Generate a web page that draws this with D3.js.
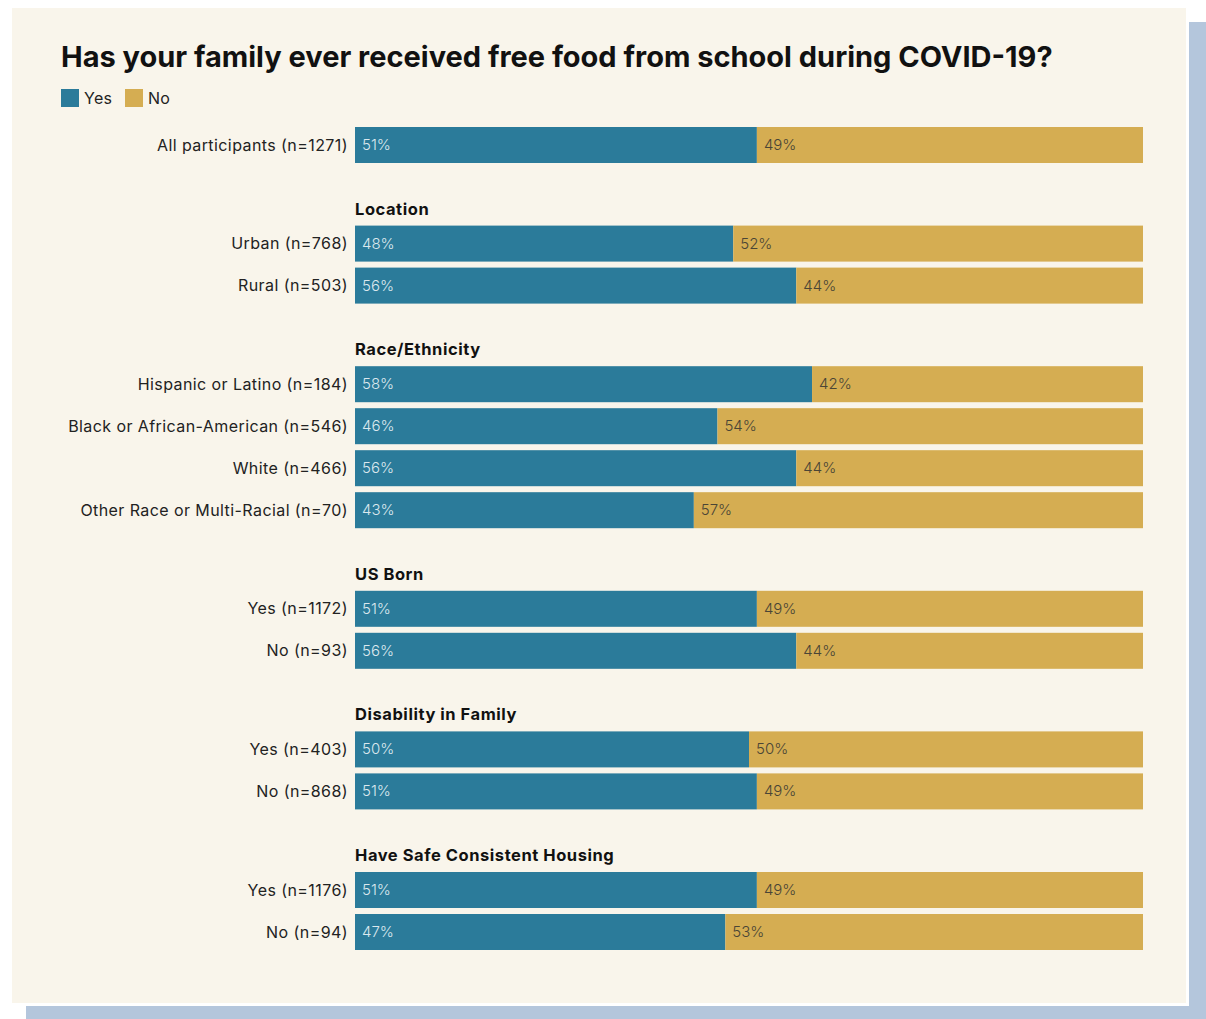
<!DOCTYPE html>
<html>
<head>
<meta charset="utf-8">
<script src="https://cdn.jsdelivr.net/npm/d3@7"></script>
<style>
  html, body { margin: 0; padding: 0; background: #ffffff; }
  svg { display: block; }
  text { font-family: "Inter", "Open Sans", sans-serif; }
</style>
</head>
<body>
<svg id="chart" width="1206" height="1019"></svg>
<script>
// Survey answers: share of families answering Yes / No, by subgroup
const sections = ["", "Location", "Race/Ethnicity", "US Born", "Disability in Family", "Have Safe Consistent Housing"];
const categories = [
  "All participants (n=1271)",
  "Urban (n=768)",
  "Rural (n=503)",
  "Hispanic or Latino (n=184)",
  "Black or African-American (n=546)",
  "White (n=466)",
  "Other Race or Multi-Racial (n=70)",
  "Yes (n=1172)",
  "No (n=93)",
  "Yes (n=403)",
  "No (n=868)",
  "Yes (n=1176)",
  "No (n=94)"
];
const sectionOf = [0, 1, 1, 2, 2, 2, 2, 3, 3, 4, 4, 5, 5];
const yesValues = [51, 48, 56, 58, 46, 56, 43, 51, 56, 50, 51, 51, 47];
const noValues  = [49, 52, 44, 42, 54, 44, 57, 49, 44, 50, 49, 49, 53];
const seriesNames = ["Yes", "No"];

const colors = { Yes: "#2b7b9a", No: "#d5ad52" };
const svg = d3.select("#chart");

// Card with offset backdrop
svg.append("rect").attr("x", 26).attr("y", 22).attr("width", 1190).attr("height", 1010).attr("fill", "#b4c6dc");
svg.append("rect").attr("x", 9).attr("y", 5).attr("width", 1180).attr("height", 1001).attr("fill", "#ffffff");
svg.append("rect").attr("x", 12).attr("y", 8).attr("width", 1174).attr("height", 995).attr("fill", "#f9f5eb");

// Fit a text element to a target width by adjusting its font size
function fitWidth(sel, target) {
  const node = sel.node();
  const fs = parseFloat(sel.attr("font-size"));
  const w = node.getComputedTextLength();
  sel.attr("font-size", (fs * target / w).toFixed(2));
}

const title = svg.append("text")
  .attr("x", 61).attr("y", 67)
  .attr("font-size", 27).attr("font-weight", 700).attr("fill", "#111")
  .text("Has your family ever received free food from school during COVID-19?");
fitWidth(title, 992);

// Legend
const legend = svg.append("g").attr("transform", "translate(61,89)");
const legendX = [0, 64];
seriesNames.forEach((name, i) => {
  const g = legend.append("g").attr("transform", `translate(${legendX[i]},0)`);
  g.append("rect").attr("width", 18).attr("height", 18).attr("fill", colors[name]);
  g.append("text").attr("x", 23).attr("y", 14.5).attr("font-size", 16)
    .attr("letter-spacing", 0.3).attr("fill", "#222").text(name);
});

// Scales
const x = d3.scaleLinear().domain([0, 100]).range([355, 1143]);
const rowStep = 42, sectionGap = 56.6, barH = 36, firstRowY = 127;
const y = i => firstRowY + i * rowStep + sectionOf[i] * sectionGap;

const rows = categories.map((c, i) => ({ label: c, yes: yesValues[i], no: noValues[i], i }));

// Section headers
sections.forEach((s, k) => {
  if (!s) return;
  const first = sectionOf.indexOf(k);
  svg.append("text")
    .attr("x", x(0)).attr("y", y(first) - 11)
    .attr("font-size", 16.5).attr("font-weight", 700).attr("fill", "#111")
    .attr("letter-spacing", 0.55)
    .text(s);
});

const row = svg.selectAll("g.row").data(rows).join("g").attr("class", "row")
  .attr("transform", d => `translate(0,${y(d.i)})`);

row.append("rect")
  .attr("x", x(0)).attr("width", d => x(d.yes) - x(0))
  .attr("height", barH).attr("fill", colors.Yes);
row.append("rect")
  .attr("x", d => x(d.yes)).attr("width", d => x(d.yes + d.no) - x(d.yes))
  .attr("height", barH).attr("fill", colors.No);

row.append("text")
  .attr("x", x(0) - 7).attr("y", barH / 2 + 5.5)
  .attr("text-anchor", "end").attr("font-size", 16).attr("fill", "#222")
  .attr("letter-spacing", 0.42)
  .text(d => d.label);

row.append("text")
  .attr("x", x(0) + 7).attr("y", barH / 2 + 5)
  .attr("font-size", 15).attr("font-weight", 300).attr("fill", "#dbe8ee")
  .text(d => d.yes + "%");
row.append("text")
  .attr("x", d => x(d.yes) + 7).attr("y", barH / 2 + 5)
  .attr("font-size", 15).attr("font-weight", 300).attr("fill", "#4a4536")
  .text(d => d.no + "%");
</script>
</body>
</html>
